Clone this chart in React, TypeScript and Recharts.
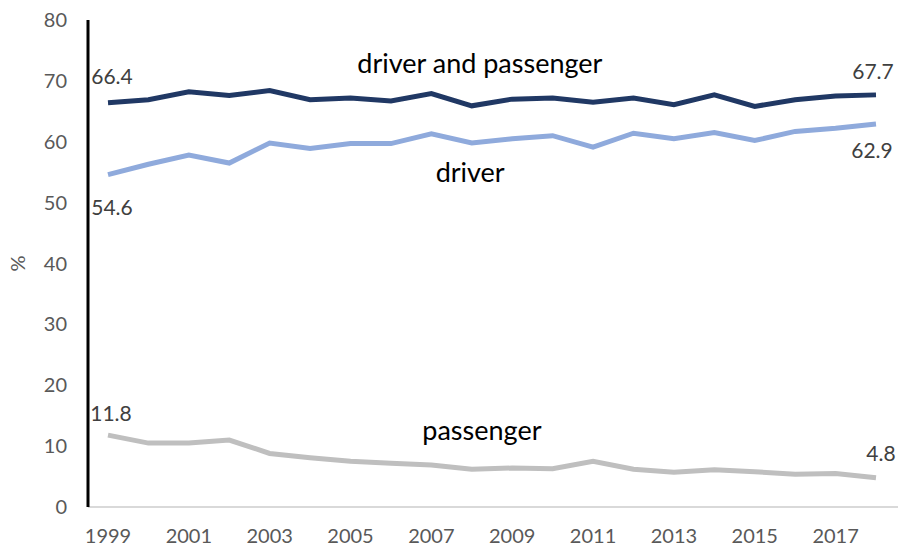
import React from "react";
import {
  LineChart,
  Line,
  XAxis,
  YAxis,
  ReferenceDot,
  LabelList,
  Label,
} from "recharts";

const years = [
  1999, 2000, 2001, 2002, 2003, 2004, 2005, 2006, 2007, 2008, 2009, 2010,
  2011, 2012, 2013, 2014, 2015, 2016, 2017, 2018,
];

const driverAndPassenger = [
  66.4, 66.9, 68.2, 67.6, 68.4, 66.9, 67.2, 66.7, 67.9, 65.9, 67.0, 67.2,
  66.5, 67.2, 66.1, 67.7, 65.8, 66.9, 67.5, 67.7,
];

const driver = [
  54.6, 56.3, 57.8, 56.5, 59.8, 58.9, 59.7, 59.7, 61.3, 59.8, 60.5, 61.0,
  59.1, 61.4, 60.5, 61.5, 60.2, 61.7, 62.2, 62.9,
];

const passenger = [
  11.8, 10.5, 10.5, 11.0, 8.8, 8.1, 7.5, 7.2, 6.9, 6.2, 6.4, 6.3, 7.5, 6.2,
  5.7, 6.1, 5.8, 5.4, 5.5, 4.8,
];

const xTicks = [1999, 2001, 2003, 2005, 2007, 2009, 2011, 2013, 2015, 2017];
const yTicks = [0, 10, 20, 30, 40, 50, 60, 70, 80];

// series name labels, placed in data coordinates
const seriesNames = [
  { text: "driver and passenger", year: 2008.2, value: 72.9 },
  { text: "driver", year: 2007.96, value: 54.9 },
  { text: "passenger", year: 2008.25, value: 12.6 },
];

const data = years.map((year, i) => ({
  year,
  both: driverAndPassenger[i],
  driver: driver[i],
  passenger: passenger[i],
}));

const FONT = "Lato, 'Open Sans', sans-serif";
const last = years.length - 1;

// end-point value labels: offsets for first and last point
const endLabel =
  (first: [number, number], end: [number, number]) => (props: any) => {
    const { x, y, value, index } = props;
    if (index !== 0 && index !== last) return null;
    const [dx, dy] = index === 0 ? first : end;
    return (
      <text
        x={x + dx}
        y={y + dy}
        textAnchor="middle"
        dominantBaseline="central"
        fill="#404040"
        fontSize={21}
        fontFamily={FONT}
      >
        {value.toFixed(1)}
      </text>
    );
  };

const App: React.FC = () => {
  return (
    <div style={{ position: "absolute", left: 0, top: 0, background: "#fff" }}>
      <LineChart
        width={898}
        height={552}
        data={data}
        margin={{ top: 20, right: 0, left: 28, bottom: 15 }}
      >
        <XAxis
          dataKey="year"
          type="number"
          domain={[1999, 2018]}
          ticks={xTicks}
          padding={{ left: 20, right: 22 }}
          height={30}
          tickLine={false}
          tickSize={0}
          tickMargin={22}
          axisLine={{ stroke: "#d9d9d9", strokeWidth: 2 }}
          tick={{ fill: "#595959", fontSize: 20, fontFamily: FONT }}
        />
        <YAxis
          type="number"
          domain={[0, 80]}
          ticks={yTicks}
          width={60}
          tickLine={false}
          tickSize={0}
          tickMargin={21}
          axisLine={{ stroke: "#000", strokeWidth: 3 }}
          tick={{ fill: "#595959", fontSize: 20, fontFamily: FONT }}
        >
          <Label
            content={(props: any) => {
              const vb = props.viewBox;
              const cx = vb.x - 11;
              const cy = vb.y + vb.height / 2;
              return (
                <text
                  x={cx}
                  y={cy}
                  transform={`rotate(-90 ${cx} ${cy})`}
                  textAnchor="middle"
                  dominantBaseline="central"
                  fill="#595959"
                  fontSize={20}
                  fontFamily={FONT}
                >
                  %
                </text>
              );
            }}
          />
        </YAxis>
        <Line
          dataKey="both"
          stroke="#203864"
          strokeWidth={5}
          dot={false}
          isAnimationActive={false}
        >
          <LabelList dataKey="both" content={endLabel([4, -27], [-3, -24])} />
        </Line>
        <Line
          dataKey="driver"
          stroke="#8faadc"
          strokeWidth={5}
          dot={false}
          isAnimationActive={false}
        >
          <LabelList dataKey="driver" content={endLabel([4, 32], [-4, 25])} />
        </Line>
        <Line
          dataKey="passenger"
          stroke="#bfbfbf"
          strokeWidth={5}
          dot={false}
          isAnimationActive={false}
        >
          <LabelList
            dataKey="passenger"
            content={endLabel([3, -23], [5, -25])}
          />
        </Line>
        {seriesNames.map((s) => (
          <ReferenceDot
            key={s.text}
            x={s.year}
            y={s.value}
            r={0}
            fill="none"
            stroke="none"
            label={{
              value: s.text,
              position: "center",
              fill: "#000",
              fontSize: 27,
              fontFamily: FONT,
            }}
          />
        ))}
      </LineChart>
    </div>
  );
};

export default App;
